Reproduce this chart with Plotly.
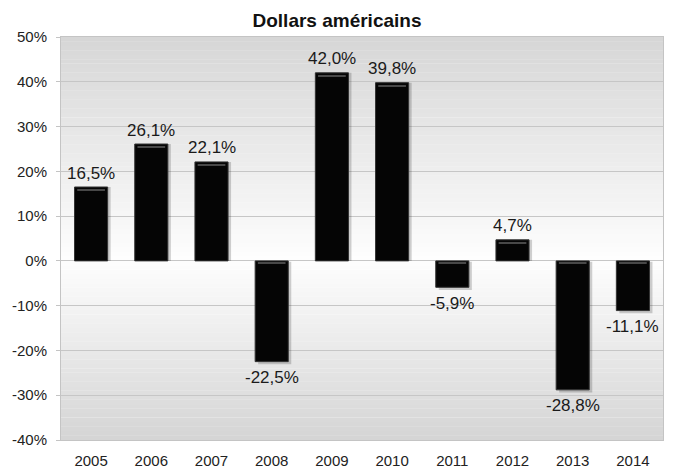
import plotly.graph_objects as go

# Annual returns, in percent
years = ["2005", "2006", "2007", "2008", "2009", "2010", "2011", "2012", "2013", "2014"]
returns_pct = [16.5, 26.1, 22.1, -22.5, 42.0, 39.8, -5.9, 4.7, -28.8, -11.1]
y_ticks = [-40, -30, -20, -10, 0, 10, 20, 30, 40, 50]

title_text = "Dollars américains"
font_family = "Liberation Sans, Arial, Helvetica, sans-serif"
bar_w = 0.55

fig = go.Figure()

# Soft drop shadow slightly to the right of each bar
fig.add_trace(go.Bar(
    x=years,
    y=[v - 0.4 if v < 0 else v for v in returns_pct],
    base=[0.0 if v > 0 else -0.2 for v in returns_pct],
    width=bar_w,
    offset=-bar_w / 2 + 0.05,
    marker=dict(color="rgba(0,0,0,0.18)", line=dict(width=0)),
    hoverinfo="skip",
))

# Main black bars
fig.add_trace(go.Bar(
    x=years,
    y=returns_pct,
    width=bar_w,
    marker=dict(color="#050505", line=dict(color="#333333", width=1)),
    hoverinfo="skip",
))

# Thin bevel highlight just inside the top edge of each bar
hl_base = [(v - 0.85) if v > 0 else -0.55 for v in returns_pct]
fig.add_trace(go.Bar(
    x=years,
    y=[0.3] * len(returns_pct),
    base=hl_base,
    width=0.46,
    marker=dict(color="#484848", line=dict(width=0)),
    hoverinfo="skip",
))

# Value labels above positive bars, below negative ones
# (x given as the category index on the category axis)
annotations = []
for i, v in enumerate(returns_pct):
    label = f"{v:.1f}%".replace(".", ",")
    annotations.append(dict(
        x=i, y=v, xref="x", yref="y",
        text=label, showarrow=False,
        xanchor="center", yanchor="middle",
        yshift=14 if v > 0 else -16,
        font=dict(size=17, color="#1a1a1a", family=font_family),
    ))

# Vertical gray gradient behind the plot: light at 0 %, darker toward the edges
y_lo, y_hi = y_ticks[0], y_ticks[-1]
shapes = []
step = 1.0
y = y_lo
while y < y_hi:
    mid = y + step / 2
    if mid >= 0:
        g = 254 - (mid / y_hi) * 40
    else:
        g = 254 - (mid / y_lo) * 42
    g = int(round(g))
    shapes.append(dict(
        type="rect", xref="paper", yref="y",
        x0=0, x1=1, y0=y, y1=y + step + 0.05,
        fillcolor=f"rgb({g},{g},{g})", line=dict(width=0),
        layer="below",
    ))
    y += step

fig.update_layout(
    width=674, height=470,
    margin=dict(l=61, r=11, t=37, b=30),
    paper_bgcolor="white",
    plot_bgcolor="white",
    barmode="overlay",
    showlegend=False,
    shapes=shapes,
    annotations=annotations,
    title=dict(
        text=f"<b>{title_text}</b>",
        x=0.5, xanchor="center",
        y=1 - 20 / 470, yanchor="middle",
        font=dict(size=19, color="#111111", family=font_family),
    ),
    font=dict(family=font_family, color="#222222"),
    xaxis=dict(
        type="category",
        categoryorder="array", categoryarray=years,
        range=[-0.5, len(years) - 0.5],
        automargin=False,
        showgrid=False,
        showline=True, linecolor="#c4c4c4", linewidth=1, mirror=True,
        ticks="", ticklabelstandoff=7,
        tickfont=dict(size=15, color="#222222"),
    ),
    yaxis=dict(
        range=[y_lo, y_hi],
        automargin=False,
        tickvals=y_ticks,
        ticktext=[f"{t}%" for t in y_ticks],
        showgrid=True, gridcolor="#c6c6c6", gridwidth=1,
        zeroline=True, zerolinecolor="#c6c6c6", zerolinewidth=1,
        showline=True, linecolor="#c4c4c4", linewidth=1, mirror=True,
        ticks="outside", ticklen=4, tickcolor="#c4c4c4",
        ticklabelstandoff=6,
        tickfont=dict(size=15, color="#222222"),
    ),
)

fig.write_html("out.html")
